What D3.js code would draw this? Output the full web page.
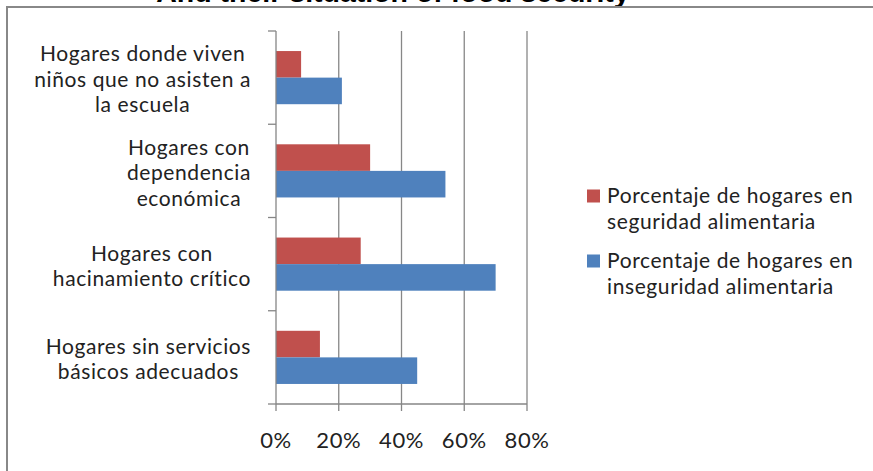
<!DOCTYPE html>
<html>
<head>
<meta charset="utf-8">
<script src="https://cdn.jsdelivr.net/npm/d3@7"></script>
<style>
  html, body { margin: 0; padding: 0; background: #fff; }
  svg { display: block; }
</style>
</head>
<body>
<svg id="chart" width="873" height="471"></svg>
<script>
const title = "And their situation of food security";
const categories = [
  "Hogares donde viven niños que no asisten a la escuela",
  "Hogares con dependencia económica",
  "Hogares con hacinamiento crítico",
  "Hogares sin servicios básicos adecuados"
];
const categoryLines = [
  ["Hogares donde viven", "niños que no asisten a", "la escuela"],
  ["Hogares con", "dependencia", "económica"],
  ["Hogares con", "hacinamiento crítico"],
  ["Hogares sin servicios", "básicos adecuados"]
];
const seriesNames = ["Porcentaje de hogares en seguridad alimentaria", "Porcentaje de hogares en inseguridad alimentaria"];
const seriesLegendLines = [
  ["Porcentaje de hogares en", "seguridad alimentaria"],
  ["Porcentaje de hogares en", "inseguridad alimentaria"]
];
const seguridad = [8, 30, 27, 14];
const inseguridad = [21, 54, 70, 45];
const xTicks = [0, 20, 40, 60, 80];

(function () {
const colors = ["#C0504D", "#4F81BD"];
const font = "Lato, 'Open Sans', sans-serif";
const fs = 21, ls = "0.6px";
const svg = d3.select("#chart");

svg.append("rect").attr("width", 873).attr("height", 471).attr("fill", "#fff");

// title (clipped at top, as in the reference)
svg.append("text").attr("x", 393).attr("y", 2).attr("text-anchor", "middle")
  .attr("font-family", "'Liberation Sans', Arial, sans-serif").attr("font-weight", "bold")
  .attr("font-size", 28.5).attr("fill", "#000").text(title);

// outer frame
svg.append("rect").attr("x", 7).attr("y", 7).attr("width", 900).attr("height", 500)
  .attr("fill", "none").attr("stroke", "#888").attr("stroke-width", 2);

const pLeft = 276, pRight = 527, pTop = 31, pBottom = 404;
const x = d3.scaleLinear().domain([0, 80]).range([pLeft, pRight]);
const y0 = d3.scaleBand().domain(categories).range([pTop, pBottom]).padding(0);
const y1 = d3.scaleBand().domain(seriesNames).range([y0.bandwidth() * 0.215, y0.bandwidth() * 0.785]).padding(0);

const gridColor = "#878787";
svg.append("g").selectAll("line").data(xTicks.slice(1)).join("line")
  .attr("x1", d => x(d)).attr("x2", d => x(d))
  .attr("y1", pTop).attr("y2", pBottom)
  .attr("stroke", gridColor).attr("stroke-width", 1.3);

// bars
const data = categories.map((c, i) => ({ cat: c, vals: [seguridad[i], inseguridad[i]] }));
const g = svg.append("g");
data.forEach(d => {
  d.vals.forEach((v, j) => {
    g.append("rect")
      .attr("x", x(0))
      .attr("y", y0(d.cat) + y1(seriesNames[j]))
      .attr("width", x(v) - x(0))
      .attr("height", y1.bandwidth())
      .attr("fill", colors[j]);
  });
});

const axisColor = "#868686";
svg.append("line").attr("x1", pLeft).attr("x2", pLeft).attr("y1", pTop).attr("y2", pBottom)
  .attr("stroke", axisColor).attr("stroke-width", 1.3);
const catBounds = categories.map(c => y0(c)).concat([pBottom]);
svg.append("g").selectAll("line").data(catBounds).join("line")
  .attr("x1", pLeft - 8).attr("x2", pLeft).attr("y1", d => d).attr("y2", d => d)
  .attr("stroke", axisColor).attr("stroke-width", 1.3);
svg.append("line").attr("x1", pLeft).attr("x2", pRight).attr("y1", pBottom).attr("y2", pBottom)
  .attr("stroke", axisColor).attr("stroke-width", 1.3);
svg.append("g").selectAll("line").data(xTicks).join("line")
  .attr("x1", d => x(d)).attr("x2", d => x(d)).attr("y1", pBottom).attr("y2", pBottom + 7)
  .attr("stroke", axisColor).attr("stroke-width", 1.3);

svg.append("g").selectAll("text").data(xTicks).join("text")
  .attr("x", d => x(d)).attr("y", 440).attr("dy", "0.35em")
  .attr("text-anchor", "middle").attr("font-family", font).attr("font-size", fs + 1)
  .attr("letter-spacing", ls)
  .attr("fill", "#222").text(d => d + "%");

const labelRight = 251, lineH = 25.5;
categories.forEach((c, i) => {
  const lines = categoryLines[i];
  const cy = y0(c) + y0.bandwidth() / 2 + 2;
  const gg = svg.append("g");
  const texts = lines.map((t, k) => gg.append("text")
    .attr("y", cy + (k - (lines.length - 1) / 2) * lineH).attr("dy", "0.35em")
    .attr("text-anchor", "middle").attr("font-family", font).attr("font-size", fs)
    .attr("letter-spacing", ls)
    .attr("fill", "#222").text(t));
  const maxW = d3.max(texts, t => t.node().getComputedTextLength());
  texts.forEach(t => t.attr("x", labelRight - maxW / 2));
});

const legTop = [196, 261];
seriesNames.forEach((s, j) => {
  svg.append("rect").attr("x", 587).attr("y", legTop[j] - 6.5).attr("width", 13).attr("height", 13)
    .attr("fill", colors[j]);
  seriesLegendLines[j].forEach((t, k) => {
    svg.append("text").attr("x", 607).attr("y", legTop[j] + k * 26).attr("dy", "0.35em")
      .attr("font-family", font).attr("font-size", fs).attr("letter-spacing", ls)
      .attr("fill", "#222").text(t);
  });
});
})();
</script>
</body>
</html>
